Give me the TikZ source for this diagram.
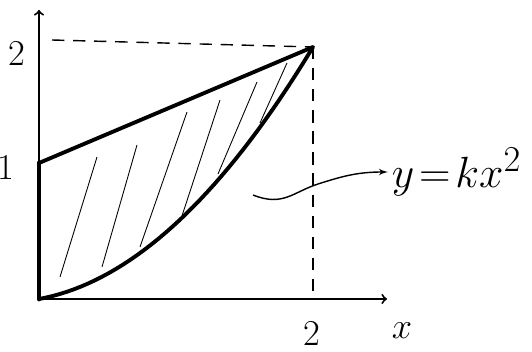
\documentclass[tikz,border=0pt]{standalone}
\usepackage{tikz}
\usetikzlibrary{arrows}

\begin{document}
\begin{tikzpicture}[x=0.02cm, y=0.02cm]
    % Define styles
    \tikzstyle{axis} = [draw, line width=1.1pt, ->, >=to]
    \tikzstyle{bound} = [draw, line width=2.2pt, line cap=round, line join=round]
    \tikzstyle{guide} = [draw, line width=0.8pt, dash pattern=on 7pt off 5pt]
    \tikzstyle{hatch} = [draw, line width=0.5pt]
    \tikzstyle{tick} = [font=\huge]
    \useasboundingbox (0,0) rectangle (532,352);

    % Points
    \coordinate (O) at (39,53);
    \coordinate (ytop) at (39,342);
    \coordinate (xend) at (387,53);
    \coordinate (A) at (313,305);
    \coordinate (B) at (39,189);
    \coordinate (ytwo) at (52,312);
    \coordinate (xtwo) at (313,53);

    % Axes
    \path [axis] (O) -- (ytop);
    \path [axis] (O) -- (xend);
    \path [bound, line width=2.8pt] (O) -- (B);

    % Dashed guides
    \path [guide] (ytwo) -- (A);
    \path [guide] (A) -- (xtwo);

    % Region
    \foreach \a/\b/\c/\d in {60/75/97/195, 102/85/137/207, 140/105/187/240,
                             180/130/220/252, 218/178/257/270, 260/229/287/289}
        \path [hatch] (\a,\b) -- (\c,\d);
    \path [bound] (B) -- (A);
    \path [bound] plot[domain=0:1, samples=40] ({39+274*\x},{53+252*(0.8*\x*\x+0.2*\x)});

    % Labels
    \node [tick] (ltwo) at (17,299) {2};
    \node [tick] (lone) at (6,185) {1};
    \node [tick] (btwo) at (312,19) {2};
    \node [tick] (lx) at (402,21) {$x$};
    \node [font=\Huge, anchor=west, inner sep=2pt] (eqn) at (388,180) {$y\!=\!kx^2$};

    % Curve label arrow
    \coordinate (tail) at (253,157);
    \coordinate (mid) at (318,168);
    \draw [line width=0.8pt, ->, >=latex'] (tail) .. controls +(30,-12) and +(-25,-8) .. (mid)
        .. controls +(25,8) and +(-30,0) .. (eqn.west);
\end{tikzpicture}
\end{document}
